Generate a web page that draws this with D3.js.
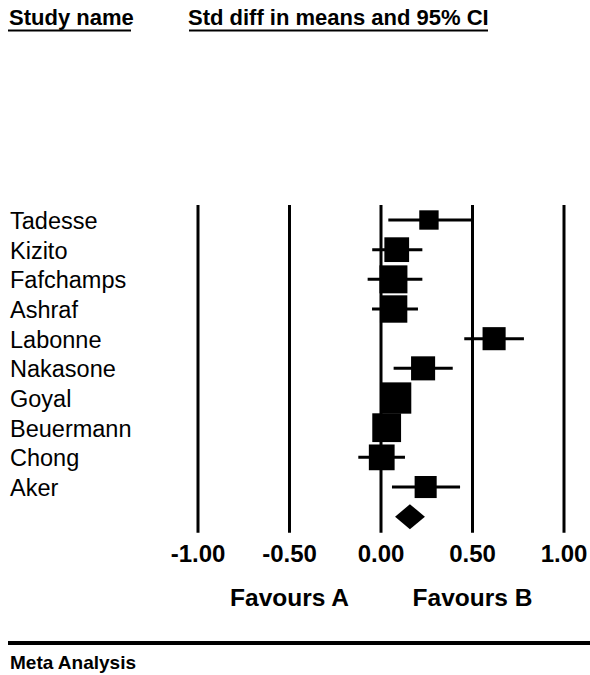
<!DOCTYPE html>
<html>
<head>
<meta charset="utf-8">
<script src="https://cdn.jsdelivr.net/npm/d3@7"></script>
<style>
  body { margin: 0; background: #fff; }
  svg { display: block; font-family: "Liberation Sans", Arial, sans-serif; }
</style>
</head>
<body>
<svg width="590" height="675"></svg>
<script>
// study data
const studies = ["Tadesse", "Kizito", "Fafchamps", "Ashraf", "Labonne", "Nakasone", "Goyal", "Beuermann", "Chong", "Aker"];
const estimates = [0.262, 0.086, 0.068, 0.069, 0.618, 0.230, 0.080, 0.031, 0.004, 0.244];
const lower = [0.040, -0.048, -0.073, -0.049, 0.455, 0.069, 0.020, -0.030, -0.124, 0.060];
const upper = [0.500, 0.226, 0.226, 0.202, 0.781, 0.392, 0.140, 0.090, 0.131, 0.432];
const weights = [5.7, 9.3, 11.9, 11.4, 8.1, 8.8, 14.9, 12.6, 10.1, 7.4];
const summary = { est: 0.158, lo: 0.077, hi: 0.240 };
const ticks = [-1, -0.5, 0, 0.5, 1];

const svg = d3.select("svg");

const x = d3.scaleLinear().domain([-1, 1]).range([198, 564]);
const y = d3.scalePoint().domain([...studies, "summary"]).range([220, 516.7]);
const size = d3.scaleSqrt().domain([0, d3.max(weights)]).range([0, 31.3]);

const data = studies.map((s, i) => ({ name: s, est: estimates[i], lo: lower[i], hi: upper[i], w: weights[i] }));

// headers
svg.append("text").attr("x", 9).attr("y", 25)
    .attr("font-size", 22).attr("font-weight", "bold").text("Study name");
svg.append("line").attr("x1", 8).attr("x2", 131).attr("y1", 30.5).attr("y2", 30.5)
    .attr("stroke", "#000").attr("stroke-width", 2);
svg.append("text").attr("x", 188).attr("y", 25)
    .attr("font-size", 22).attr("font-weight", "bold").text("Std diff in means and 95% CI");
svg.append("line").attr("x1", 189).attr("x2", 488).attr("y1", 30.5).attr("y2", 30.5)
    .attr("stroke", "#000").attr("stroke-width", 2);

// reference lines
svg.selectAll(".ref")
    .data(ticks)
    .enter()
    .append("line")
    .attr("x1", d => x(d)).attr("x2", d => x(d))
    .attr("y1", y(studies[0]) - 15).attr("y2", y("summary") + 16)
    .attr("stroke", "#000").attr("stroke-width", 3);

// study names
svg.selectAll(".name")
    .data(data)
    .enter()
    .append("text")
    .attr("x", 10).attr("y", d => y(d.name) + 9)
    .attr("font-size", 23.5)
    .text(d => d.name);

// whiskers
svg.selectAll(".ci")
    .data(data)
    .enter()
    .append("line")
    .attr("x1", d => x(d.lo)).attr("x2", d => x(d.hi))
    .attr("y1", d => y(d.name)).attr("y2", d => y(d.name))
    .attr("stroke", "#000").attr("stroke-width", 3);

// boxes
svg.selectAll(".box")
    .data(data)
    .enter()
    .append("rect")
    .attr("x", d => x(d.est) - size(d.w) / 2)
    .attr("y", d => y(d.name) - size(d.w) / 2)
    .attr("width", d => size(d.w))
    .attr("height", d => size(d.w))
    .attr("fill", "#000");

// summary diamond
const sy = y("summary"), dh = 12.5;
svg.append("path")
    .attr("d", `M${x(summary.lo)},${sy}L${x(summary.est)},${sy - dh}L${x(summary.hi)},${sy}L${x(summary.est)},${sy + dh}Z`)
    .attr("fill", "#000");

// tick labels
svg.selectAll(".tick")
    .data(ticks)
    .enter()
    .append("text")
    .attr("x", d => x(d)).attr("y", 562)
    .attr("text-anchor", "middle")
    .attr("font-size", 24).attr("font-weight", "bold")
    .text(d => d.toFixed(2));

svg.append("text").attr("x", x(-0.5)).attr("y", 606)
    .attr("text-anchor", "middle").attr("font-size", 24.5).attr("font-weight", "bold")
    .text("Favours A");
svg.append("text").attr("x", x(0.5)).attr("y", 606)
    .attr("text-anchor", "middle").attr("font-size", 24.5).attr("font-weight", "bold")
    .text("Favours B");

// footer
svg.append("line").attr("x1", 8).attr("x2", 590).attr("y1", 643).attr("y2", 643)
    .attr("stroke", "#000").attr("stroke-width", 4);
svg.append("text").attr("x", 10).attr("y", 669)
    .attr("font-size", 19).attr("font-weight", "bold").text("Meta Analysis");
</script>
</body>
</html>
